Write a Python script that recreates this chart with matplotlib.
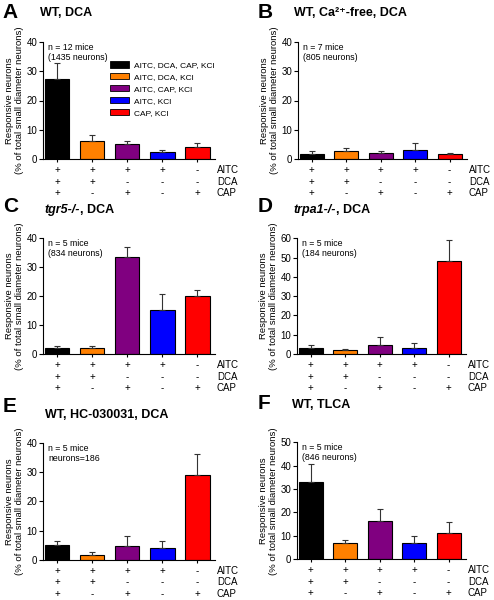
import matplotlib
matplotlib.use("Agg")
import matplotlib.pyplot as plt
from matplotlib.patches import Patch

plt.rcParams['font.family'] = ['Liberation Sans', 'DejaVu Sans']

# data
groups = ["AITC, DCA, CAP, KCl", "AITC, DCA, KCl", "AITC, CAP, KCl", "AITC, KCl", "CAP, KCl"]
colors = ["#000000", "#FF8000", "#800080", "#0000FF", "#FF0000"]
aitc_signs = ["+", "+", "+", "+", "-"]
dca_signs = ["+", "+", "-", "-", "-"]
cap_signs = ["+", "-", "+", "-", "+"]

a_mean = [27.2, 6.2, 5.0, 2.3, 4.0]
a_err = [5.6, 2.0, 1.3, 0.8, 1.5]
b_mean = [1.8, 2.7, 2.1, 3.1, 1.6]
b_err = [1.1, 1.1, 0.8, 2.4, 0.6]
c_mean = [2.2, 2.1, 33.5, 15.1, 20.2]
c_err = [0.7, 0.6, 3.4, 5.7, 1.9]
d_mean = [2.9, 1.9, 4.8, 3.3, 48.2]
d_err = [1.6, 0.7, 3.8, 2.4, 10.8]
e_mean = [5.1, 1.8, 4.8, 4.2, 29.0]
e_err = [1.2, 1.0, 3.4, 2.3, 7.1]
f_mean = [32.9, 6.8, 16.5, 7.1, 11.1]
f_err = [7.8, 1.6, 5.0, 2.9, 4.9]

fig = plt.figure(figsize=(4.94, 6.00), dpi=100)

panels = [
    # letter, title, italic part, means, errs, ymax, note, axes rect
    ("A", "WT, DCA", None, a_mean, a_err, 40, "n = 12 mice\n(1435 neurons)", [0.087, 0.735, 0.348, 0.195]),
    ("B", "WT, Ca²⁺-free, DCA", None, b_mean, b_err, 40, "n = 7 mice\n(805 neurons)", [0.603, 0.735, 0.342, 0.195]),
    ("C", ", DCA", "tgr5-/-", c_mean, c_err, 40, "n = 5 mice\n(834 neurons)", [0.087, 0.41, 0.348, 0.193]),
    ("D", ", DCA", "trpa1-/-", d_mean, d_err, 60, "n = 5 mice\n(184 neurons)", [0.601, 0.41, 0.342, 0.193]),
    ("E", "WT, HC-030031, DCA", None, e_mean, e_err, 40, "n = 5 mice\nneurons=186", [0.087, 0.067, 0.348, 0.195]),
    ("F", "WT, TLCA", None, f_mean, f_err, 50, "n = 5 mice\n(846 neurons)", [0.601, 0.068, 0.342, 0.195]),
]

# letter x, letter y, title x, title y
title_pos = {"A": (0.006, 0.980, 0.081, 0.978), "B": (0.522, 0.980, 0.595, 0.978),
             "C": (0.006, 0.655, 0.091, 0.650), "D": (0.522, 0.655, 0.595, 0.650),
             "E": (0.006, 0.322, 0.091, 0.308), "F": (0.522, 0.328, 0.591, 0.325)}

x = range(len(groups))
for letter, title, ital, means, errs, ymax, note, rect in panels:
    ax = fig.add_axes(rect)
    ax.bar(x, means, width=0.7, color=colors, edgecolor="black", linewidth=0.8,
           yerr=[[0] * 5, errs], error_kw=dict(ecolor="#333333", elinewidth=0.8, capsize=2, capthick=0.8))
    ax.set_xlim(-0.4, 4.5)
    ax.set_ylim(0, ymax)
    ax.set_yticks(range(0, ymax + 1, 10))
    ax.set_xticks(list(x))
    ax.set_xticklabels([])
    ax.tick_params(axis="x", length=2, width=0.8, direction="out")
    ax.tick_params(axis="y", length=3, width=0.8, labelsize=7, pad=1)
    for s in ["top", "right"]:
        ax.spines[s].set_visible(False)
    for s in ["left", "bottom"]:
        ax.spines[s].set_linewidth(0.8)
    ax.set_ylabel("Responsive neurons\n(% of total small diameter neurons)", fontsize=6.8, labelpad=2, linespacing=1.15)
    ax.text(0.03, 0.99, note, transform=ax.transAxes, fontsize=6.3, va="top", ha="left", linespacing=1.1)

    for row, (signs, lab) in enumerate([(aitc_signs, "AITC"), (dca_signs, "DCA"), (cap_signs, "CAP")]):
        off = -8 - row * 8.3
        for i, sg in enumerate(signs):
            ax.annotate(sg, xy=(i, 0), xycoords=("data", "axes fraction"), xytext=(0, off),
                        textcoords="offset points", ha="center", va="center", fontsize=7)
        ax.annotate(lab, xy=(1.0, 0), xycoords="axes fraction", xytext=(1.5, off),
                    textcoords="offset points", ha="left", va="center", fontsize=7)

    lx, ly, tx, ty = title_pos[letter]
    fig.text(lx, ly, letter, fontsize=15, fontweight="bold", va="center", ha="left")
    if ital:
        t = fig.text(tx, ty, ital, fontsize=9, fontweight="bold", style="italic", va="center", ha="left")
        ax.annotate(title, xy=(1, 0.5), xycoords=t, va="center", ha="left", fontsize=9, fontweight="bold")
    else:
        fig.text(tx, ty, title, fontsize=9, fontweight="bold", va="center", ha="left")

    if letter == "A":
        handles = [Patch(facecolor=c, edgecolor="black", linewidth=0.6) for c in colors]
        ax.legend(handles, groups, loc="upper right", bbox_to_anchor=(1.04, 0.9), frameon=False,
                  fontsize=6, handlelength=2.2, handleheight=0.8, labelspacing=0.45, handletextpad=0.6)

fig.savefig("out.png", dpi=100)
